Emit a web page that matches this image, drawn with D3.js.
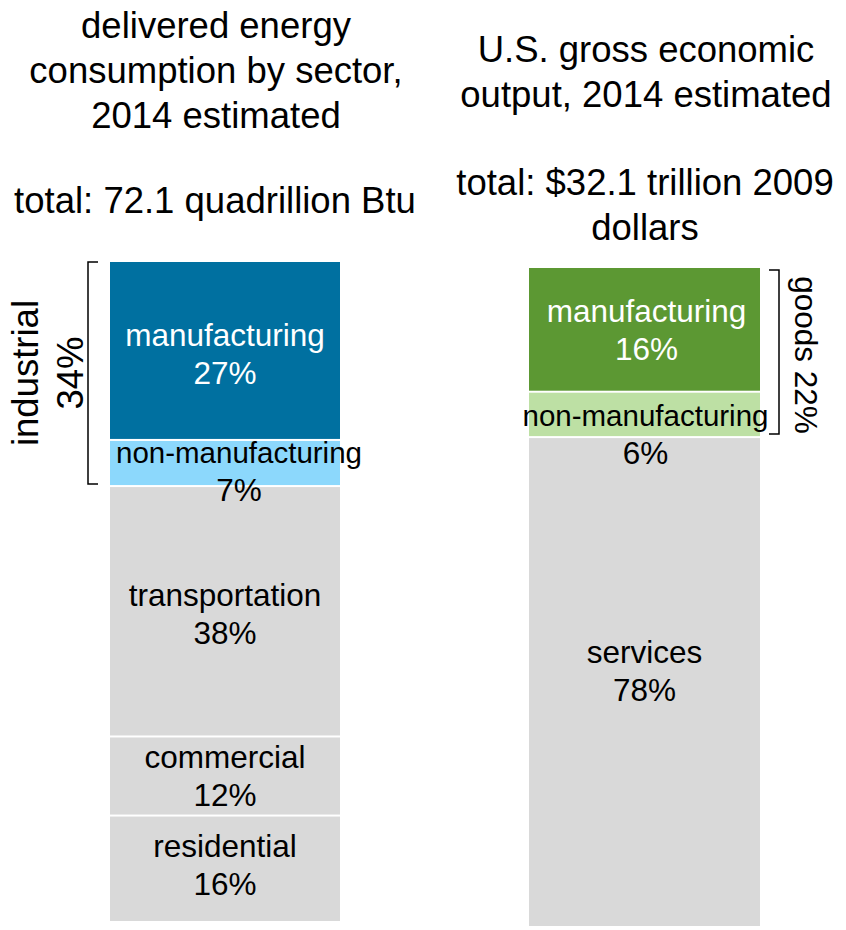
<!DOCTYPE html>
<html>
<head>
<meta charset="utf-8">
<script src="https://cdn.jsdelivr.net/npm/d3@7"></script>
<style>
  body { margin: 0; background: #fff; }
  text { font-family: "Liberation Sans", Arial, sans-serif; }
</style>
</head>
<body>
<div id="vis"></div>
<script>
var w = 846,
    h = 930;

// left bar: delivered energy consumption, share of total (%)
var energySectors = ["manufacturing", "non-manufacturing", "transportation", "commercial", "residential"];
var energyShares  = [27, 7, 38, 12, 16];
var energyLabels  = ["27%", "7%", "38%", "12%", "16%"];

// right bar: gross economic output (bar heights as drawn, labels as printed)
var outputSectors = ["manufacturing", "non-manufacturing", "services"];
var outputShares  = [18.8, 6.9, 74.3];
var outputLabels  = ["16%", "6%", "78%"];

var energyTitle = ["delivered energy", "consumption by sector,", "2014 estimated"];
var energyTotal = ["total: 72.1 quadrillion Btu"];
var outputTitle = ["U.S. gross economic", "output, 2014 estimated"];
var outputTotal = ["total: $32.1 trillion 2009", "dollars"];

var industrialGroup = ["industrial", "34%"];   // spans first 2 energy sectors
var goodsGroup = "goods 22%";                  // spans first 2 output sectors

var energyColors = {"manufacturing": "#0070a0", "non-manufacturing": "#8cd8fc"};
var outputColors = {"manufacturing": "#5c9833", "non-manufacturing": "#bde0a4"};
var grey = "#d9d9d9";

var stackUp = function(names, vals, labels) {
    var sum = 0, out = [];
    for (var i = 0; i < vals.length; i++) {
        out.push({name: names[i], v0: sum, v1: sum + vals[i], label: labels[i], i: i, last: i == vals.length - 1});
        sum += vals[i];
    }
    return out;
}

var svg = d3.select("#vis").append("svg")
    .attr("width", w)
    .attr("height", h);

var xL = d3.scaleBand().domain(["energy"]).range([110, 340]).padding(0);
var xR = d3.scaleBand().domain(["output"]).range([529, 760]).padding(0);
var yL = d3.scaleLinear().domain([0, 100]).range([262, 921]);
var yR = d3.scaleLinear().domain([0, 100]).range([268, 926]);

// label nudges [dx, dy], as placed in the original
var nudgeL = {"non-manufacturing": [14, 5], "commercial": [0, -3], "residential": [0, -6]};
var nudgeR = {"manufacturing": [2, -3], "non-manufacturing": [1, 17], "services": [0, -14]};

var drawBar = function(g, data, x, key, y, colors, nudge, fsSmall) {
    var cx = x(key) + x.bandwidth() / 2;
    var nd = function(d, k) { return nudge[d.name] ? nudge[d.name][k] : 0; };
    g.selectAll("rect.seg")
        .data(data)
        .enter().append("rect")
        .attr("class", "seg")
        .attr("x", x(key))
        .attr("width", x.bandwidth())
        .attr("y", function(d) { return y(d.v0) + (d.i > 0 ? 1 : 0); })
        .attr("height", function(d) { return y(d.v1) - y(d.v0) - (d.i > 0 ? 1 : 0) - (d.last ? 0 : 1); })
        .style("fill", function(d) { return colors[d.name] || grey; });

    var lab = g.selectAll("text.lab")
        .data(data)
        .enter().append("text")
        .attr("class", "lab")
        .attr("text-anchor", "middle")
        .style("font-size", function(d) { return d.name == "non-manufacturing" ? fsSmall : "31.5px"; })
        .style("fill", function(d) { return d.name == "manufacturing" ? "#fff" : "#000"; });
    lab.append("tspan")
        .attr("x", function(d) { return cx + nd(d, 0); })
        .attr("y", function(d) { return (y(d.v0) + y(d.v1)) / 2 - 5 + nd(d, 1); })
        .text(function(d) { return d.name; });
    lab.append("tspan")
        .attr("x", function(d) { return cx + nd(d, 0); })
        .attr("y", function(d) { return (y(d.v0) + y(d.v1)) / 2 + 33 + nd(d, 1); })
        .style("font-size", "31.5px")
        .text(function(d) { return d.label; });
}

var titleBlock = function(lines, cx, y0) {
    svg.append("g").selectAll("text")
        .data(lines)
        .enter().append("text")
        .attr("x", cx)
        .attr("y", function(d, i) { return y0 + i * 45; })
        .attr("text-anchor", "middle")
        .style("font-size", "36.5px")
        .text(function(d) { return d; });
}

var left = stackUp(energySectors, energyShares, energyLabels);
var right = stackUp(outputSectors, outputShares, outputLabels);

drawBar(svg.append("g"), left, xL, "energy", yL, energyColors, nudgeL, "29.5px");
drawBar(svg.append("g"), right, xR, "output", yR, outputColors, nudgeR, "29.5px");

titleBlock(energyTitle, 216, 38);
titleBlock(energyTotal, 215, 213);
titleBlock(outputTitle, 646, 62);
titleBlock(outputTotal, 645, 195);

// brackets
var bracket = function(xv, xt, y0, y1) {
    return "M " + xt + " " + y0 + " L " + xv + " " + y0 + " L " + xv + " " + y1 + " L " + xt + " " + y1;
}
var indTop = yL(left[0].v0), indBot = yL(left[1].v1) - 2;
svg.append("path")
    .attr("d", bracket(88, 98, indTop, indBot))
    .style("fill", "none").style("stroke", "#000").style("stroke-width", 1.5);

var gTop = yR(right[0].v0) + 2, gBot = yR(right[1].v1) - 3;
svg.append("path")
    .attr("d", bracket(779, 769, gTop, gBot))
    .style("fill", "none").style("stroke", "#000").style("stroke-width", 1.5);

var indMid = (indTop + indBot) / 2;
svg.append("g").selectAll("text")
    .data(industrialGroup)
    .enter().append("text")
    .attr("transform", function(d, i) { return "translate(" + (38 + i * 45) + "," + indMid + ") rotate(-90)"; })
    .attr("text-anchor", "middle")
    .style("font-size", "36.5px")
    .text(function(d) { return d; });

svg.append("text")
    .attr("transform", "translate(795," + ((gTop + gBot) / 2 + 3) + ") rotate(90)")
    .attr("text-anchor", "middle")
    .style("font-size", "31.5px")
    .text(goodsGroup);
</script>
</body>
</html>
